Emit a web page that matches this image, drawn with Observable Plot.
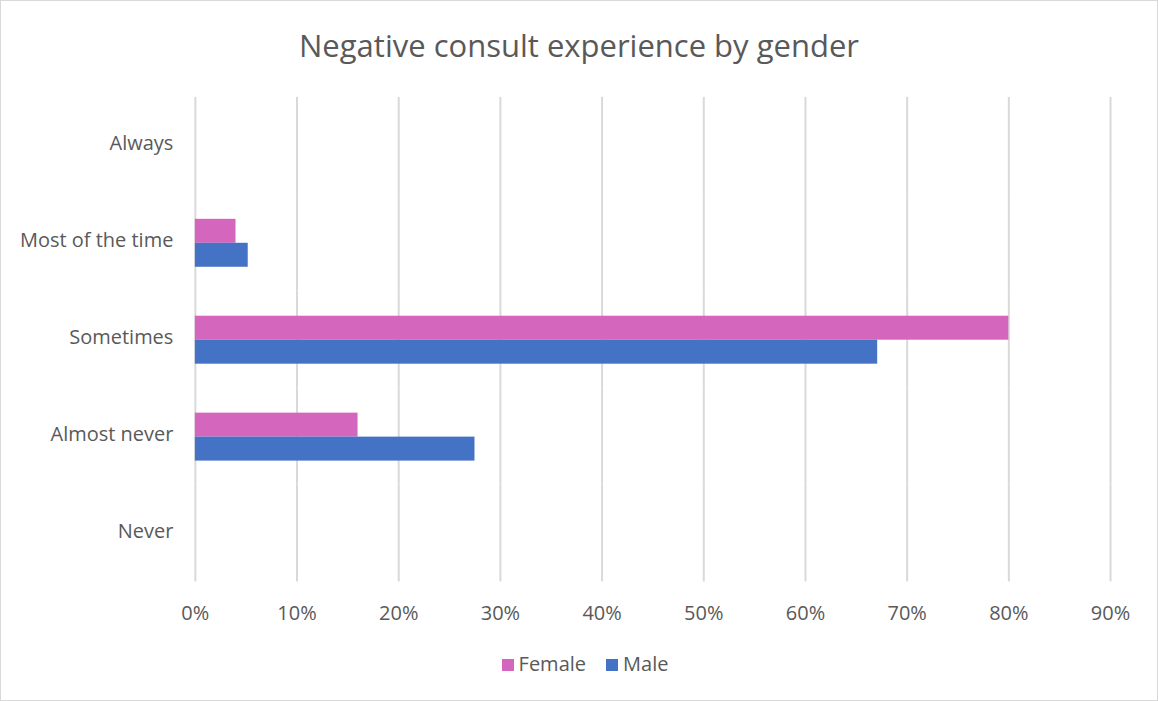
<!DOCTYPE html>
<html>
<head>
<meta charset="utf-8">
<script src="https://cdn.jsdelivr.net/npm/d3@7"></script>
<script src="https://cdn.jsdelivr.net/npm/@observablehq/plot@0.6"></script>
<style>
  html, body { margin: 0; padding: 0; background: #fff; }
  #wrap { position: relative; width: 1158px; height: 701px; box-sizing: border-box; border: 1px solid #d9d9d9; font-family: "Open Sans", sans-serif; color: #595959; overflow: hidden; }
  #title { position: absolute; left: 0; width: 100%; top: 23px; text-align: center; font-size: 31px; line-height: 42px; color: #595959; }
  #chart { position: absolute; left: -1px; top: -1px; }
  #legend { position: absolute; left: 6px; width: 100%; top: 649px; text-align: center; font-size: 20px; line-height: 28px; color: #595959; }
  .item { display: inline-block; margin: 0 10px; }
  .sw { display: inline-block; width: 12px; height: 12px; margin-right: 5px; vertical-align: 0px; }
</style>
</head>
<body>
<div id="wrap">
  <div id="title">Negative consult experience by gender</div>
  <div id="chart"></div>
  <div id="legend"></div>
</div>
<script>
const categories = ["Always", "Most of the time", "Sometimes", "Almost never", "Never"];
const genders = ["Female", "Male"];
const female = [0, 0.040, 0.800, 0.160, 0];
const male = [0, 0.052, 0.671, 0.275, 0];
const xTicks = [0, 0.1, 0.2, 0.3, 0.4, 0.5, 0.6, 0.7, 0.8, 0.9];
const colors = ["#D466BD", "#4472C4"];

const data = [];
categories.forEach((c, i) => {
  data.push({category: c, gender: "Female", value: female[i]});
  data.push({category: c, gender: "Male", value: male[i]});
});

const plot = Plot.plot({
  width: 1158,
  height: 640,
  marginLeft: 195,
  marginRight: 47,
  marginTop: 95,
  marginBottom: 56,
  style: {fontFamily: "'Open Sans', sans-serif", fontSize: "20px", color: "#595959", background: "transparent"},
  x: {domain: [0, 0.9], ticks: xTicks, tickFormat: d => Math.round(d * 100) + "%", label: null},
  y: {domain: genders, paddingInner: 0, paddingOuter: 0.96, axis: null},
  fy: {domain: categories, padding: 0, label: null},
  color: {domain: genders, range: colors},
  marks: [
    Plot.gridX(xTicks, {stroke: "#d9d9d9", strokeOpacity: 1, strokeWidth: 2}),
    Plot.barX(data, {fy: "category", y: "gender", x: "value", fill: "gender"}),
    Plot.axisX(xTicks, {tickSize: 0, tickPadding: 24, tickFormat: d => Math.round(d * 100) + "%", fill: "#595959", fontSize: 20, label: null}),
    Plot.axisFy({anchor: "left", tickSize: 0, tickPadding: 22, dy: -2, fill: "#595959", fontSize: 20, label: null})
  ]
});
document.getElementById("chart").appendChild(plot);

const legend = document.getElementById("legend");
genders.forEach((g, i) => {
  const item = document.createElement("span");
  item.className = "item";
  item.innerHTML = `<span class="sw" style="background:${colors[i]}"></span>${g}`;
  legend.appendChild(item);
});
</script>
</body>
</html>
